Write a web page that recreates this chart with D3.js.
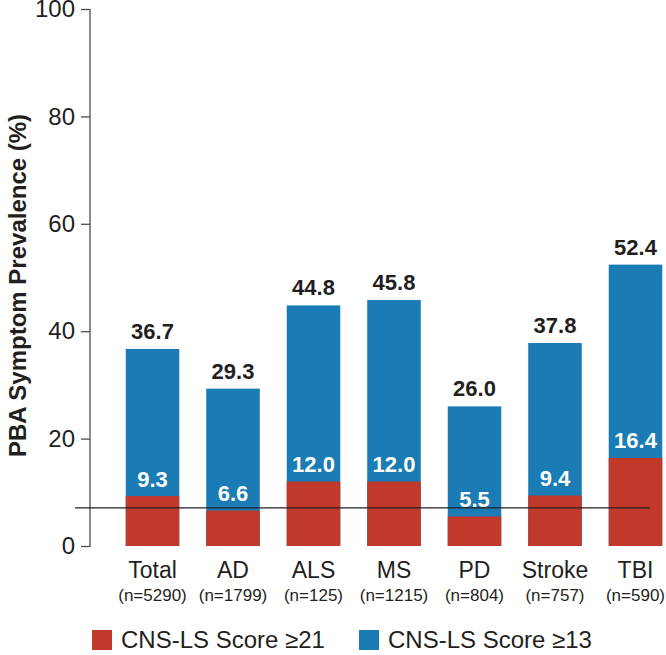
<!DOCTYPE html>
<html>
<head>
<meta charset="utf-8">
<script src="https://cdn.jsdelivr.net/npm/d3@7"></script>
<style>
  html, body { margin: 0; padding: 0; background: #fff; }
  svg { display: block; font-family: "Liberation Sans", Arial, Helvetica, sans-serif; }
</style>
</head>
<body>
<svg id="chart" width="666" height="655"></svg>
<script>
const categories = ["Total", "AD", "ALS", "MS", "PD", "Stroke", "TBI"];
const sampleSizes = ["(n=5290)", "(n=1799)", "(n=125)", "(n=1215)", "(n=804)", "(n=757)", "(n=590)"];
const score13 = [36.7, 29.3, 44.8, 45.8, 26.0, 37.8, 52.4];
const score21 = [9.3, 6.6, 12.0, 12.0, 5.5, 9.4, 16.4];
const yTicks = [0, 20, 40, 60, 80, 100];
const referenceLine = 7.1;
const legendLabels = ["CNS-LS Score \u226521", "CNS-LS Score \u226513"];

const RED = "#c1392b";
const BLUE = "#1a7bb5";
const INK = "#231f20";

const svg = d3.select("#chart");

const x = d3.scaleBand()
  .domain(categories)
  .range([112.25, 675.75])
  .paddingInner(0.335)
  .paddingOuter(0.1675);

const y = d3.scaleLinear().domain([0, 100]).range([546, 9]);

// Y axis
const yAxis = d3.axisLeft(y).tickValues(yTicks).tickSize(9).tickSizeOuter(0).tickPadding(6);
const gy = svg.append("g").attr("transform", "translate(90,0)").call(yAxis);
gy.select(".domain").attr("stroke", "#4d4d4d").attr("stroke-width", 1.3)
  .attr("d", `M0,${y(100)}V${y(0) + 1}`);
gy.selectAll(".tick line").attr("stroke", "#4d4d4d").attr("stroke-width", 1.3);
gy.selectAll(".tick text").attr("font-size", 24).attr("fill", INK)
  .attr("font-family", "'Liberation Sans', Arial, sans-serif");

// Axis title
svg.append("text")
  .attr("transform", `translate(26,${(y(0) + y(100)) / 2 + 8}) rotate(-90)`)
  .attr("text-anchor", "middle")
  .attr("font-size", 24)
  .attr("font-weight", "bold")
  .attr("fill", INK)
  .text("PBA Symptom Prevalence (%)");

// Blue bars (score >= 13)
svg.append("g").selectAll("rect")
  .data(categories)
  .join("rect")
  .attr("x", d => x(d))
  .attr("width", x.bandwidth())
  .attr("y", (d, i) => y(score13[i]))
  .attr("height", (d, i) => y(0) - y(score13[i]))
  .attr("fill", BLUE);

// Red bars (score >= 21)
svg.append("g").selectAll("rect")
  .data(categories)
  .join("rect")
  .attr("x", d => x(d))
  .attr("width", x.bandwidth())
  .attr("y", (d, i) => y(score21[i]))
  .attr("height", (d, i) => y(0) - y(score21[i]))
  .attr("fill", RED);

// Reference line
svg.append("line")
  .attr("x1", 75).attr("x2", 650)
  .attr("y1", y(referenceLine)).attr("y2", y(referenceLine))
  .attr("stroke", INK).attr("stroke-width", 1.3);

// Value labels: totals
svg.append("g").selectAll("text")
  .data(categories)
  .join("text")
  .attr("x", d => x(d) + x.bandwidth() / 2)
  .attr("y", (d, i) => y(score13[i]) - 10)
  .attr("text-anchor", "middle")
  .attr("font-size", 22)
  .attr("font-weight", "bold")
  .attr("fill", INK)
  .text((d, i) => score13[i].toFixed(1));

// Value labels: red values in white
svg.append("g").selectAll("text")
  .data(categories)
  .join("text")
  .attr("x", d => x(d) + x.bandwidth() / 2)
  .attr("y", (d, i) => y(score21[i]) - 9.5)
  .attr("text-anchor", "middle")
  .attr("font-size", 22)
  .attr("font-weight", "bold")
  .attr("fill", "#fff")
  .text((d, i) => score21[i].toFixed(1));

// Category labels
const gx = svg.append("g");
gx.selectAll("text.cat")
  .data(categories)
  .join("text")
  .attr("class", "cat")
  .attr("x", d => x(d) + x.bandwidth() / 2)
  .attr("y", 578)
  .attr("text-anchor", "middle")
  .attr("font-size", 23)
  .attr("fill", INK)
  .text(d => d);
gx.selectAll("text.n")
  .data(categories)
  .join("text")
  .attr("class", "n")
  .attr("x", d => x(d) + x.bandwidth() / 2)
  .attr("y", 601)
  .attr("text-anchor", "middle")
  .attr("font-size", 17)
  .attr("fill", INK)
  .text((d, i) => sampleSizes[i]);

// Legend
const legendX = [92, 359];
const legendColors = [RED, BLUE];
const lg = svg.append("g");
legendLabels.forEach((lab, i) => {
  lg.append("rect")
    .attr("x", legendX[i]).attr("y", 630)
    .attr("width", 20).attr("height", 20)
    .attr("fill", legendColors[i]);
  lg.append("text")
    .attr("x", legendX[i] + 29).attr("y", 648)
    .attr("font-size", 24)
    .attr("fill", INK)
    .text(lab);
});
</script>
</body>
</html>
